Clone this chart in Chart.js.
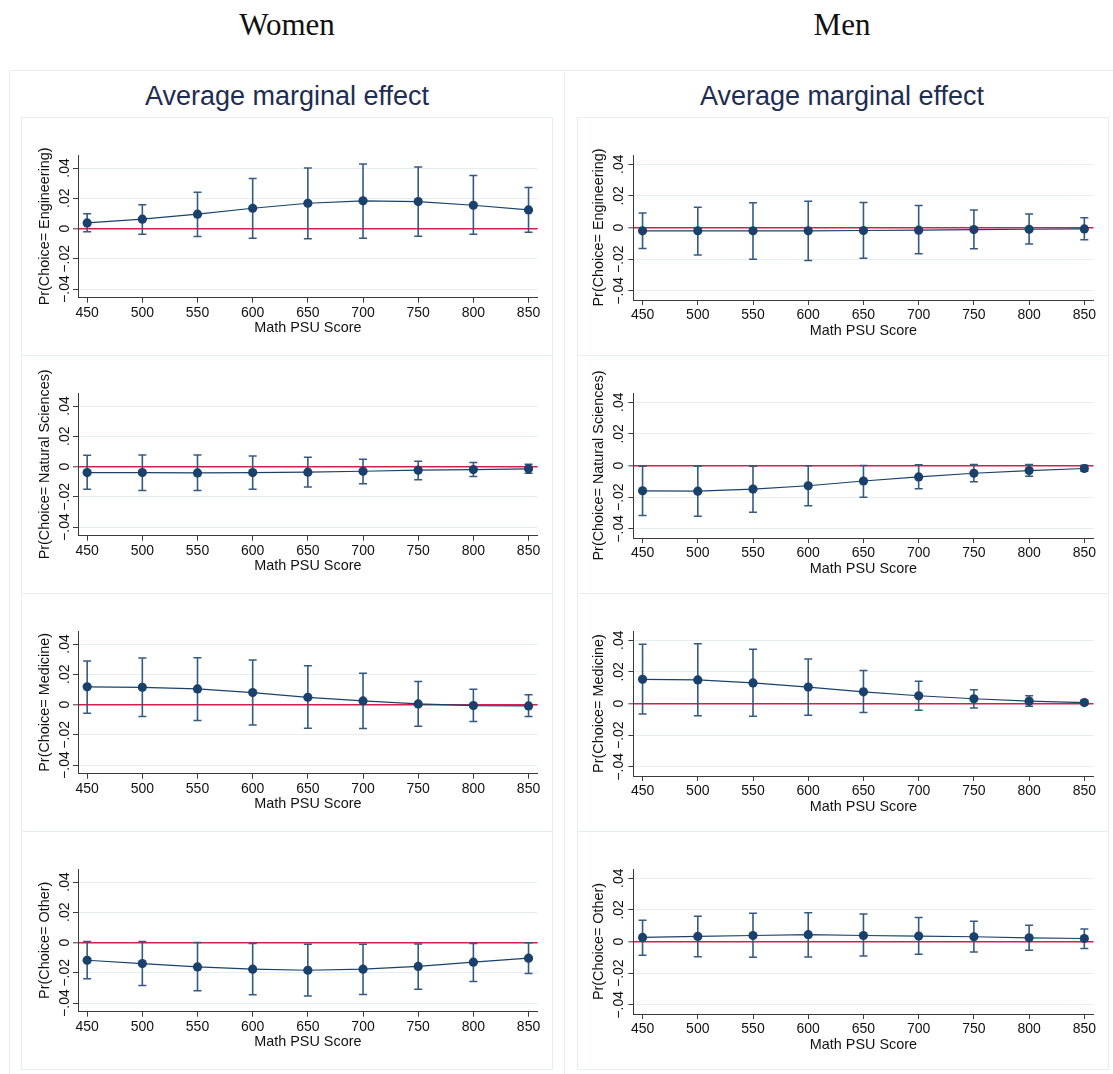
<!DOCTYPE html>
<html>
<head>
<meta charset="utf-8">
<title>Average marginal effects by gender</title>
<script src="https://cdn.jsdelivr.net/npm/chart.js@4.4.1/dist/chart.umd.min.js"></script>
<style>
  html, body { margin: 0; padding: 0; background: #fff; }
  #page { position: relative; width: 1113px; height: 1074px; overflow: hidden; background: #fff; }
  .group { position: absolute; top: 9px; width: 400px; text-align: center;
           font-family: "Liberation Serif", "DejaVu Serif", serif; font-size: 31px; line-height: 31px; color: #111; }
  .panel { position: absolute; border: 1px solid #e6eef0; box-sizing: border-box; }
  .ptitle { position: absolute; top: 83px; width: 556px; text-align: center;
            font-family: "Liberation Sans", Arial, sans-serif; font-size: 27px; line-height: 27px; color: #1e2d52; }
  .cell { position: absolute; border: 1px solid #e6eef0; box-sizing: border-box; }
  canvas { position: absolute; }
</style>
</head>
<body>
<div id="page"></div>
<script>
// Math PSU score grid and axis ticks
const xValues = [450, 500, 550, 600, 650, 700, 750, 800, 850];
const xTicks = [450, 500, 550, 600, 650, 700, 750, 800, 850];
const yTicks = [-0.04, -0.02, 0, 0.02, 0.04];
const yTickLabels = ['\u2212.04', '\u2212.02', '0', '.02', '.04'];

const groupNames = ['Women', 'Men'];
const panelTitle = 'Average marginal effect';
const xTitle = 'Math PSU Score';
const yTitles = ['Pr(Choice= Engineering)', 'Pr(Choice= Natural Sciences)', 'Pr(Choice= Medicine)', 'Pr(Choice= Other)'];

// Women: marginal effect and 95% CI bounds
const womenEngMargin = [0.0037, 0.0062, 0.0095, 0.0134, 0.0167, 0.0183, 0.0178, 0.0154, 0.0123];
const womenEngLo     = [-0.0022, -0.0037, -0.0053, -0.0064, -0.0068, -0.0064, -0.0051, -0.0037, -0.0024];
const womenEngHi     = [0.0097, 0.0158, 0.0240, 0.0330, 0.0400, 0.0427, 0.0407, 0.0350, 0.0271];

const womenNatMargin = [-0.0040, -0.0040, -0.0042, -0.0040, -0.0037, -0.0031, -0.0024, -0.0020, -0.0015];
const womenNatLo     = [-0.0150, -0.0159, -0.0159, -0.0150, -0.0136, -0.0114, -0.0088, -0.0066, -0.0044];
const womenNatHi     = [0.0075, 0.0077, 0.0077, 0.0070, 0.0062, 0.0048, 0.0035, 0.0026, 0.0015];

const womenMedMargin = [0.0117, 0.0114, 0.0103, 0.0079, 0.0048, 0.0024, 0.0004, -0.0007, -0.0009];
const womenMedLo     = [-0.0057, -0.0079, -0.0106, -0.0136, -0.0156, -0.0158, -0.0143, -0.0112, -0.0079];
const womenMedHi     = [0.0288, 0.0308, 0.0310, 0.0295, 0.0257, 0.0207, 0.0152, 0.0101, 0.0064];

const womenOthMargin = [-0.0117, -0.0139, -0.0161, -0.0176, -0.0183, -0.0176, -0.0158, -0.0130, -0.0103];
const womenOthLo     = [-0.0240, -0.0284, -0.0319, -0.0345, -0.0354, -0.0343, -0.0308, -0.0257, -0.0205];
const womenOthHi     = [0.0007, 0.0007, 0.0000, -0.0007, -0.0011, -0.0011, -0.0009, -0.0007, -0.0002];

// Men: marginal effect and 95% CI bounds
const menEngMargin = [-0.0021, -0.0021, -0.0021, -0.0021, -0.0019, -0.0017, -0.0013, -0.0011, -0.0009];
const menEngLo     = [-0.0132, -0.0173, -0.0200, -0.0209, -0.0194, -0.0166, -0.0134, -0.0104, -0.0077];
const menEngHi     = [0.0092, 0.0128, 0.0156, 0.0166, 0.0158, 0.0139, 0.0110, 0.0085, 0.0062];

const menNatMargin = [-0.0160, -0.0162, -0.0149, -0.0128, -0.0098, -0.0072, -0.0049, -0.0032, -0.0019];
const menNatLo     = [-0.0316, -0.0320, -0.0296, -0.0254, -0.0200, -0.0147, -0.0102, -0.0068, -0.0036];
const menNatHi     = [-0.0004, -0.0004, -0.0004, -0.0002, 0.0000, 0.0004, 0.0006, 0.0006, 0.0002];

const menMedMargin = [0.0153, 0.0149, 0.0130, 0.0104, 0.0074, 0.0049, 0.0030, 0.0015, 0.0006];
const menMedLo     = [-0.0066, -0.0077, -0.0081, -0.0074, -0.0057, -0.0043, -0.0028, -0.0017, -0.0006];
const menMedHi     = [0.0374, 0.0377, 0.0343, 0.0281, 0.0209, 0.0140, 0.0087, 0.0049, 0.0019];

const menOthMargin = [0.0026, 0.0032, 0.0038, 0.0043, 0.0038, 0.0034, 0.0030, 0.0023, 0.0019];
const menOthLo     = [-0.0087, -0.0096, -0.0100, -0.0098, -0.0092, -0.0081, -0.0066, -0.0055, -0.0045];
const menOthHi     = [0.0134, 0.0160, 0.0179, 0.0181, 0.0173, 0.0151, 0.0128, 0.0102, 0.0079];

const series = [
  [ {m: womenEngMargin, lo: womenEngLo, hi: womenEngHi},
    {m: womenNatMargin, lo: womenNatLo, hi: womenNatHi},
    {m: womenMedMargin, lo: womenMedLo, hi: womenMedHi},
    {m: womenOthMargin, lo: womenOthLo, hi: womenOthHi} ],
  [ {m: menEngMargin, lo: menEngLo, hi: menEngHi},
    {m: menNatMargin, lo: menNatLo, hi: menNatHi},
    {m: menMedMargin, lo: menMedLo, hi: menMedHi},
    {m: menOthMargin, lo: menOthLo, hi: menOthHi} ]
];

// Styling
const SANS = '"Liberation Sans", Arial, Helvetica, sans-serif';
const NAVY = '#1a416b';
const CI_COLOR = '#345a80';
const AXIS = '#3a3a3a';
const GRID = '#e6eef0';
const ZERO = '#d21f4c';
const TEXT = '#111';

// Per-column geometry of the chart canvases (in px)
const columns = [
  { panelLeft: 9,   cellLeft: 21,  yAxisW: 57,   padRight: 14.3, xAxisH: 57.3, xTitlePad: 18.4,
    yTickPad: -5.8, yTitleX: 24,   yMin: -0.0457, yMax: 0.0486 },
  { panelLeft: 564, cellLeft: 577, yAxisW: 56.4, padRight: 14.5, xAxisH: 55,   xTitlePad: 15.4,
    yTickPad: -4.8, yTitleX: 21.6, yMin: -0.0458, yMax: 0.0458 }
];
const CELL_W = 531, CELL_H = 238, CELL_TOP = 117, PLOT_TOP = 38;

// Rotated y-axis title, drawn without width compression
const yTitlePlugin = {
  id: 'yTitle',
  afterDraw(chart, args, opts) {
    const y = chart.scales.y;
    const ctx = chart.ctx;
    ctx.save();
    ctx.translate(opts.x, (y.top + y.bottom) / 2);
    ctx.rotate(-Math.PI / 2);
    ctx.font = '14.4px ' + SANS;
    ctx.fillStyle = TEXT;
    ctx.textAlign = 'center';
    ctx.textBaseline = 'middle';
    ctx.fillText(opts.text, 0, 0);
    ctx.restore();
  }
};

function buildChart(canvas, col, s, yTitle) {
  const points = xValues.map((x, i) => ({x: x, y: s.m[i]}));
  const upper = xValues.map((x, i) => ({x: x, y: s.hi[i]}));
  const lower = xValues.map((x, i) => ({x: x, y: s.lo[i]}));
  const whiskers = [];
  xValues.forEach((x, i) => {
    whiskers.push({x: x, y: s.lo[i]}, {x: x, y: s.hi[i]}, {x: x, y: null});
  });

  return new Chart(canvas, {
    type: 'line',
    data: {
      datasets: [
        { data: points, borderColor: NAVY, borderWidth: 1.2, tension: 0,
          pointRadius: 4.6, pointBackgroundColor: NAVY, pointBorderColor: NAVY, pointBorderWidth: 0 },
        { data: upper, showLine: false, pointStyle: 'line', pointRadius: 4,
          pointBorderColor: CI_COLOR, pointBackgroundColor: CI_COLOR, pointBorderWidth: 1.5 },
        { data: lower, showLine: false, pointStyle: 'line', pointRadius: 4,
          pointBorderColor: CI_COLOR, pointBackgroundColor: CI_COLOR, pointBorderWidth: 1.5 },
        { data: whiskers, borderColor: CI_COLOR, borderWidth: 1.6, pointRadius: 0, spanGaps: false }
      ]
    },
    options: {
      responsive: false,
      animation: false,
      devicePixelRatio: 1,
      events: [],
      layout: { padding: { left: 0, top: PLOT_TOP, right: col.padRight, bottom: 0 } },
      plugins: {
        legend: { display: false },
        tooltip: { enabled: false },
        yTitle: { text: yTitle, x: col.yTitleX }
      },
      scales: {
        x: {
          type: 'linear', min: 441.7, max: 858.3,
          afterBuildTicks: sc => { sc.ticks = xTicks.map(v => ({value: v})); },
          afterFit: sc => { sc.height = col.xAxisH; },
          grid: { drawOnChartArea: false, drawTicks: true, tickLength: 5, tickColor: AXIS, tickWidth: 1 },
          border: { display: true, color: AXIS, width: 1 },
          ticks: { font: { family: SANS, size: 14 }, color: TEXT, padding: 1.6,
                   maxRotation: 0, minRotation: 0, autoSkip: false, callback: v => String(v) },
          title: { display: true, text: xTitle, color: TEXT, font: { family: SANS, size: 14.4 },
                   padding: { top: 0, bottom: col.xTitlePad } }
        },
        y: {
          type: 'linear', min: col.yMin, max: col.yMax,
          afterBuildTicks: sc => { sc.ticks = yTicks.map(v => ({value: v})); },
          afterFit: sc => { sc.width = col.yAxisW; },
          grid: {
            drawTicks: true, tickLength: 5, tickColor: AXIS, tickWidth: 1,
            color: c => (c.tick && Math.abs(c.tick.value) < 1e-9) ? ZERO : GRID,
            lineWidth: c => (c.tick && Math.abs(c.tick.value) < 1e-9) ? 1.6 : 1
          },
          border: { display: true, color: AXIS, width: 1 },
          ticks: {
            font: { family: SANS, size: 14 }, color: TEXT,
            minRotation: 90, maxRotation: 90, crossAlign: 'center', padding: col.yTickPad,
            callback: v => {
              const k = yTicks.findIndex(t => Math.abs(t - v) < 1e-9);
              return k >= 0 ? yTickLabels[k] : '';
            }
          },
          title: { display: false }
        }
      }
    },
    plugins: [yTitlePlugin]
  });
}

const page = document.getElementById('page');

columns.forEach((col, c) => {
  const panel = document.createElement('div');
  panel.className = 'panel';
  panel.style.left = col.panelLeft + 'px';
  panel.style.top = '70px';
  panel.style.width = (c === 0 ? 556 : 560) + 'px';
  panel.style.height = '1030px';
  page.appendChild(panel);

  const g = document.createElement('div');
  g.className = 'group';
  g.textContent = groupNames[c];
  g.style.left = (col.panelLeft + 278 - 200) + 'px';
  page.appendChild(g);

  const t = document.createElement('div');
  t.className = 'ptitle';
  t.textContent = panelTitle;
  t.style.left = col.panelLeft + 'px';
  page.appendChild(t);

  for (let r = 0; r < 4; r++) {
    const top = CELL_TOP + r * CELL_H;
    const cell = document.createElement('div');
    cell.className = 'cell';
    cell.style.left = col.cellLeft + 'px';
    cell.style.top = top + 'px';
    cell.style.width = (CELL_W + 1) + 'px';
    cell.style.height = (CELL_H + 1) + 'px';
    page.appendChild(cell);

    const cv = document.createElement('canvas');
    cv.width = CELL_W;
    cv.height = CELL_H;
    cv.style.left = col.cellLeft + 'px';
    cv.style.top = top + 'px';
    cv.style.width = CELL_W + 'px';
    cv.style.height = CELL_H + 'px';
    page.appendChild(cv);

    buildChart(cv, col, series[c][r], yTitles[r]);
  }
});
</script>
</body>
</html>
